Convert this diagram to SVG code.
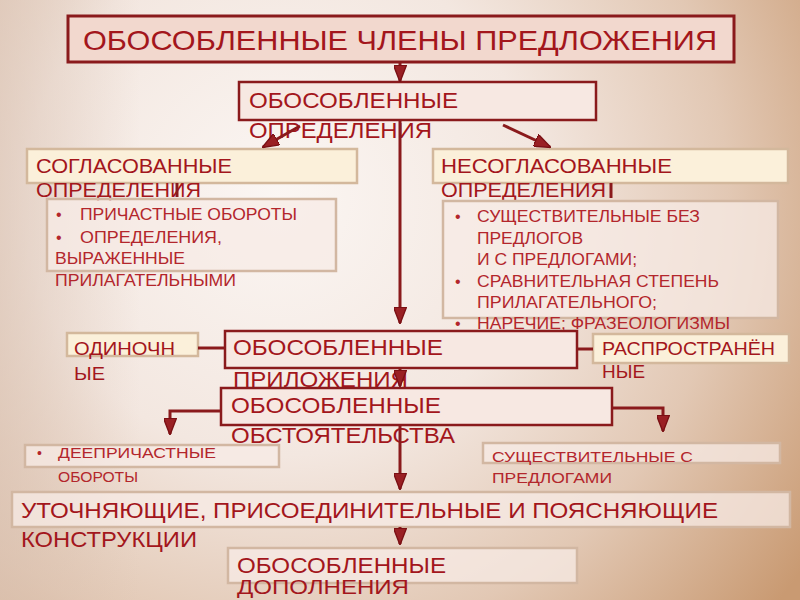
<svg xmlns="http://www.w3.org/2000/svg" width="800" height="600" viewBox="0 0 800 600">
<defs>
<radialGradient id="bg" cx="280" cy="200" r="640" gradientUnits="userSpaceOnUse">
<stop offset="0" stop-color="#fbf6f3"/>
<stop offset="0.4" stop-color="#f3e7e0"/>
<stop offset="0.7" stop-color="#e2c8b4"/>
<stop offset="1" stop-color="#c99a72"/>
</radialGradient>
<linearGradient id="leftshade" x1="0" y1="0" x2="1" y2="0">
<stop offset="0" stop-color="#d9c1b1" stop-opacity="0.6"/>
<stop offset="1" stop-color="#d9c1b1" stop-opacity="0"/>
</linearGradient>
<marker id="ah" viewBox="0 0 18 14" refX="17" refY="7" markerWidth="17" markerHeight="13" markerUnits="userSpaceOnUse" orient="auto">
<path d="M0,0 L18,7 L0,14 z" fill="#9a2024" stroke="#7a1014" stroke-width="1.5"/>
</marker>
<style>
.t{font-family:"Liberation Sans",Arial,sans-serif;fill:#a3161c}
.b{font-family:"Liberation Sans",Arial,sans-serif;fill:#b3262c}
.dark{fill:#f7e8e2;stroke:#8a1a1c;stroke-width:2.5}
.cream{fill:#fbf0da;stroke:#d3b89c;stroke-width:2.5}
.light{fill:#f7ebe5;fill-opacity:0.75;stroke:#d2b7a2;stroke-width:2.5}
.c{fill:none;stroke:#8a1a1c;stroke-width:3}
</style>
</defs>
<rect x="0" y="0" width="800" height="600" fill="url(#bg)"/>
<rect x="0" y="0" width="140" height="600" fill="url(#leftshade)"/>

<g id="title">
<rect x="68" y="16" width="666" height="46" fill="#f2d8ce" stroke="#8a1a1c" stroke-width="3"/>
<text class="t" x="83" y="50" font-size="28" textLength="634" lengthAdjust="spacingAndGlyphs">ОБОСОБЛЕННЫЕ ЧЛЕНЫ ПРЕДЛОЖЕНИЯ</text>
</g>

<g id="opredeleniya">
<rect class="dark" x="239" y="82" width="357" height="38"/>
<text class="t" x="249" y="108" font-size="22" textLength="209" lengthAdjust="spacingAndGlyphs">ОБОСОБЛЕННЫЕ</text>
<text class="t" x="249" y="138" font-size="22" textLength="183" lengthAdjust="spacingAndGlyphs">ОПРЕДЕЛЕНИЯ</text>
</g>

<g id="soglasovannye">
<rect class="cream" x="27" y="149" width="330" height="34"/>
<text class="t" x="36" y="173" font-size="21" textLength="196" lengthAdjust="spacingAndGlyphs">СОГЛАСОВАННЫЕ</text>
<text class="t" x="36" y="197" font-size="21" textLength="165" lengthAdjust="spacingAndGlyphs">ОПРЕДЕЛЕНИЯ</text>
</g>

<g id="nesoglasovannye">
<rect class="cream" x="433" y="149" width="355" height="34"/>
<text class="t" x="441" y="173" font-size="21" textLength="231" lengthAdjust="spacingAndGlyphs">НЕСОГЛАСОВАННЫЕ</text>
<text class="t" x="441" y="197" font-size="21" textLength="165" lengthAdjust="spacingAndGlyphs">ОПРЕДЕЛЕНИЯ</text>
</g>

<g id="prichastnye">
<rect class="light" x="47" y="199" width="289" height="72"/>
<text class="b" x="56" y="220" font-size="16">•</text>
<text class="b" x="80" y="220" font-size="16" textLength="217" lengthAdjust="spacingAndGlyphs">ПРИЧАСТНЫЕ ОБОРОТЫ</text>
<text class="b" x="56" y="243" font-size="16">•</text>
<text class="b" x="80" y="243" font-size="16" textLength="142" lengthAdjust="spacingAndGlyphs">ОПРЕДЕЛЕНИЯ,</text>
<text class="b" x="55" y="264" font-size="16" textLength="130" lengthAdjust="spacingAndGlyphs">ВЫРАЖЕННЫЕ</text>
<text class="b" x="55" y="286" font-size="16" textLength="181" lengthAdjust="spacingAndGlyphs">ПРИЛАГАТЕЛЬНЫМИ</text>
</g>

<g id="sushch-bez">
<rect class="light" x="443" y="201" width="335" height="117" fill-opacity="0.45"/>
<text class="b" x="455" y="222" font-size="16">•</text>
<text class="b" x="477" y="222" font-size="16" textLength="223" lengthAdjust="spacingAndGlyphs">СУЩЕСТВИТЕЛЬНЫЕ БЕЗ</text>
<text class="b" x="477" y="244" font-size="16" textLength="106" lengthAdjust="spacingAndGlyphs">ПРЕДЛОГОВ</text>
<text class="b" x="477" y="265" font-size="16" textLength="160" lengthAdjust="spacingAndGlyphs">И С ПРЕДЛОГАМИ;</text>
<text class="b" x="455" y="287" font-size="16">•</text>
<text class="b" x="477" y="287" font-size="16" textLength="242" lengthAdjust="spacingAndGlyphs">СРАВНИТЕЛЬНАЯ СТЕПЕНЬ</text>
<text class="b" x="477" y="308" font-size="16" textLength="180" lengthAdjust="spacingAndGlyphs">ПРИЛАГАТЕЛЬНОГО;</text>
<text class="b" x="455" y="329" font-size="16">•</text>
<text class="b" x="477" y="329" font-size="16" textLength="253" lengthAdjust="spacingAndGlyphs">НАРЕЧИЕ; ФРАЗЕОЛОГИЗМЫ</text>
</g>

<g id="odinochnye">
<rect class="cream" x="67" y="333" width="131" height="23"/>
<text class="t" x="74" y="355" font-size="19" textLength="101" lengthAdjust="spacingAndGlyphs">ОДИНОЧН</text>
<text class="t" x="74" y="380" font-size="19" textLength="31" lengthAdjust="spacingAndGlyphs">ЫЕ</text>
</g>

<g id="rasprostranennye">
<rect class="cream" x="593" y="334" width="196" height="29"/>
<text class="t" x="602" y="355" font-size="19" textLength="173" lengthAdjust="spacingAndGlyphs">РАСПРОСТРАНЁН</text>
<text class="t" x="602" y="378" font-size="19" textLength="43" lengthAdjust="spacingAndGlyphs">НЫЕ</text>
</g>

<g id="prilozheniya">
<rect class="dark" x="225" y="331" width="352" height="37"/>
<text class="t" x="233" y="355" font-size="22" textLength="210" lengthAdjust="spacingAndGlyphs">ОБОСОБЛЕННЫЕ</text>
<text class="t" x="233" y="387" font-size="22" textLength="175" lengthAdjust="spacingAndGlyphs">ПРИЛОЖЕНИЯ</text>
</g>

<g id="obstoyatelstva">
<rect class="dark" x="221" y="388" width="391" height="37"/>
<text class="t" x="231" y="413" font-size="22" textLength="210" lengthAdjust="spacingAndGlyphs">ОБОСОБЛЕННЫЕ</text>
<text class="t" x="231" y="443" font-size="22" textLength="224" lengthAdjust="spacingAndGlyphs">ОБСТОЯТЕЛЬСТВА</text>
</g>

<g id="deeprichastnye">
<rect class="light" x="25" y="445" width="254" height="22"/>
<text class="b" x="37" y="458" font-size="14">•</text>
<text class="b" x="58" y="458" font-size="14" textLength="158" lengthAdjust="spacingAndGlyphs">ДЕЕПРИЧАСТНЫЕ</text>
<text class="b" x="58" y="482" font-size="14" textLength="80" lengthAdjust="spacingAndGlyphs">ОБОРОТЫ</text>
</g>

<g id="sushch-s">
<rect class="light" x="483" y="443" width="297" height="20"/>
<text class="b" x="492" y="462" font-size="15" textLength="201" lengthAdjust="spacingAndGlyphs">СУЩЕСТВИТЕЛЬНЫЕ С</text>
<text class="b" x="492" y="483" font-size="15" textLength="120" lengthAdjust="spacingAndGlyphs">ПРЕДЛОГАМИ</text>
</g>

<g id="utochnyayushchie">
<rect class="light" x="12" y="492" width="778" height="35" fill-opacity="0.85"/>
<text class="t" x="21" y="518" font-size="22" textLength="697" lengthAdjust="spacingAndGlyphs">УТОЧНЯЮЩИЕ, ПРИСОЕДИНИТЕЛЬНЫЕ И ПОЯСНЯЮЩИЕ</text>
<text class="t" x="21" y="547" font-size="22" textLength="176" lengthAdjust="spacingAndGlyphs">КОНСТРУКЦИИ</text>
</g>

<g id="dopolneniya">
<rect class="light" x="228" y="548" width="349" height="35" fill-opacity="0.85"/>
<text class="t" x="237" y="573" font-size="22" textLength="209" lengthAdjust="spacingAndGlyphs">ОБОСОБЛЕННЫЕ</text>
<text class="t" x="237" y="594" font-size="20" textLength="172" lengthAdjust="spacingAndGlyphs">ДОПОЛНЕНИЯ</text>
</g>

<g id="connectors">
<line class="c" x1="400" y1="62" x2="400" y2="81" marker-end="url(#ah)"/>
<line class="c" x1="300" y1="126" x2="263" y2="147" marker-end="url(#ah)"/>
<line class="c" x1="503" y1="125" x2="550" y2="147" marker-end="url(#ah)"/>
<line class="c" x1="400" y1="120" x2="400" y2="323" marker-end="url(#ah)"/>
<line class="c" x1="177" y1="183" x2="177" y2="197"/>
<line class="c" x1="611" y1="183" x2="611" y2="198"/>
<line class="c" x1="198" y1="348" x2="225" y2="348"/>
<line class="c" x1="577" y1="349" x2="593" y2="349"/>
<line class="c" x1="400" y1="368" x2="400" y2="386" marker-end="url(#ah)"/>
<polyline class="c" points="221,411 170,411 170,434" marker-end="url(#ah)"/>
<polyline class="c" points="612,408 663,408 663,431" marker-end="url(#ah)"/>
<line class="c" x1="400" y1="425" x2="400" y2="489" marker-end="url(#ah)"/>
<line class="c" x1="400" y1="527" x2="400" y2="544" marker-end="url(#ah)"/>
</g>
</svg>
